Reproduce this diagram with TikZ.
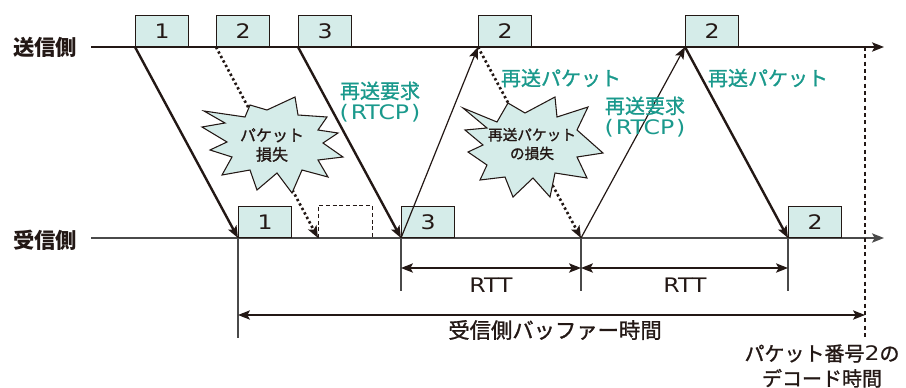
\documentclass[tikz,border=0pt]{standalone}
\usepackage{fontspec}
\setmainfont{Noto Sans CJK JP}
\newfontfamily\cjkmed{Noto Sans CJK JP}[FakeBold=1.2]
\newfontfamily\widelat{DejaVu Sans}[FakeStretch=1.18]
\usetikzlibrary{arrows.meta}
\definecolor{ink}{HTML}{231815}
\definecolor{axisgray}{HTML}{4A4A4A}
\definecolor{pale}{HTML}{D5ECE9}
\definecolor{tealtxt}{HTML}{1A998C}
\tikzset{
  pkt/.style={draw=ink, line width=0.8pt, fill=pale, minimum width=39.75pt, minimum height=23.25pt,
    inner sep=0pt, anchor=south west, font=\widelat\fontsize{15}{15}\selectfont, text=ink},
  ghost/.style={draw=ink, line width=0.7pt, dash pattern=on 3pt off 2pt},
  tip/.style={-{Stealth[length=9pt,width=7pt,inset=2pt]}},
  tipb/.style={{Stealth[length=9pt,width=7pt,inset=2pt]}-{Stealth[length=9pt,width=7pt,inset=2pt]}},
  thickarr/.style={draw=ink, line width=1.8pt, tip},
  thinarr/.style={draw=ink, line width=0.9pt, tip},
  dotarr/.style={draw=ink, line width=2pt, dash pattern=on 1.8pt off 2pt, tip},
  axisline/.style={draw=ink, line width=1.2pt, tip},
  raxis/.style={draw=axisgray, line width=1pt, tip},
  tick/.style={draw=axisgray, line width=0.8pt},
  dim/.style={draw=ink, line width=0.9pt, tipb},
  side/.style={font=\fontsize{16}{18}\selectfont\bfseries, text=ink},
  teal/.style={font=\cjkmed\fontsize{15}{16}\selectfont, text=tealtxt, align=center, inner sep=0pt},
  burst/.style={draw=ink, line width=0.8pt, fill=pale},
  bursttxt/.style={font=\cjkmed\fontsize{12}{14.5}\selectfont, text=ink, align=center, inner sep=0pt},
  lbl/.style={font=\cjkmed\fontsize{15}{17}\selectfont, text=ink, align=center, inner sep=0pt},
}
\newcommand{\rtcplabel}{{\widelat (\kern1.5pt RTCP\kern1.5pt)}}
\begin{document}
\begin{tikzpicture}[x=0.75pt, y=-0.75pt]
\useasboundingbox (0,0) rectangle (906,387);

% side labels
\node[side] (snd) at (45,47) {送信側};
\node[side] (rcv) at (45,240) {受信側};

% timelines
\coordinate (sL) at (91,47);
\coordinate (sR) at (884,47);
\coordinate (rL) at (91,238);
\coordinate (rR) at (884,238);
\draw[axisline] (sL) -- (sR);
\draw[raxis] (rL) -- (rR);

% decode time dashed line
\coordinate (dTop) at (865,47);
\coordinate (dBot) at (865,338);
\draw[draw=ink, line width=0.8pt, dash pattern=on 3pt off 2.5pt] (dTop) -- (dBot);

% sender packets
\node[pkt] (s1) at (135,47) {1};
\node[pkt] (s2) at (216,47) {2};
\node[pkt] (s3) at (298,47) {3};
\node[pkt] (s4) at (478,47) {2};
\node[pkt] (s5) at (685,47) {2};

% receiver packets
\node[pkt] (r1) at (238,238) {1};
\node[pkt, draw=none, fill=none] (r2) at (318,238) {};
\draw[ghost] (r2.south west) -- (r2.north west) -- (r2.north east) -- (r2.south east);
\node[pkt] (r3) at (401,238) {3};
\node[pkt] (r5) at (788,238) {2};
\coordinate (rx) at (581,238);

% dotted lost packets (behind bursts)
\draw[dotarr] (s2.south west) -- (r2.south west);
\draw[dotarr] (s4.south west) -- (rx);

% starbursts
\draw[burst] (204,111) -- (245,117) -- (250,105) -- (267,110) -- (295,97) -- (298,115) -- (327,117)
  -- (318,130) -- (338,133) -- (323,143) -- (343,157) -- (318,160) -- (328,177) -- (302,170)
  -- (292,193) -- (277,173) -- (257,190) -- (250,170) -- (222,175) -- (232,157) -- (210,150)
  -- (227,142) -- (202,127) -- (225,123) -- cycle;
\node[bursttxt] (b1t) at (272,145) {パケット\\損失};

\draw[burst] (463,108) -- (497,122) -- (508,103) -- (525,113) -- (555,97) -- (557,117) -- (588,107)
  -- (577,130) -- (603,153) -- (577,157) -- (587,178) -- (555,173) -- (550,197) -- (533,178)
  -- (513,197) -- (505,177) -- (480,180) -- (487,165) -- (468,152) -- (483,145) -- (465,130)
  -- (487,128) -- cycle;
\node[bursttxt, font=\cjkmed\fontsize{11}{14}\selectfont] (b2t) at (532,144) {再送パケット\\の損失};

% transmissions
\draw[thickarr] (s1.south west) -- (r1.south west);
\draw[thickarr] (s3.south west) -- (r3.south west);
\draw[thinarr] (r3.south west) -- (s4.south west);
\draw[thinarr] (rx) -- (s5.south west);
\draw[thickarr] (s5.south west) -- (r5.south west);

% teal labels
\node[teal] (req1) at (380,102) {再送要求\\\rtcplabel};
\node[teal] (ret1) at (561,78) {再送パケット};
\node[teal] (req2) at (645,117) {再送要求\\\rtcplabel};
\node[teal] (ret2) at (768,78) {再送パケット};

% RTT dimension lines
\coordinate (v1t) at (401,238); \coordinate (v1b) at (401,291);
\coordinate (v2t) at (581,238); \coordinate (v2b) at (581,291);
\coordinate (v3t) at (788,238); \coordinate (v3b) at (788,291);
\draw[tick] (v1t) -- (v1b);
\draw[tick] (v2t) -- (v2b);
\draw[tick] (v3t) -- (v3b);
\coordinate (a1) at (401,268); \coordinate (a2) at (581,268); \coordinate (a3) at (788,268);
\draw[dim] (a1) -- (a2);
\draw[dim] (a2) -- (a3);
\node[lbl, font=\widelat\fontsize{15}{16}\selectfont] (rtt1) at (491,285) {RTT};
\node[lbl, font=\widelat\fontsize{15}{16}\selectfont] (rtt2) at (685,285) {RTT};

% buffer time
\coordinate (bv1) at (238,238); \coordinate (bv2) at (238,338);
\draw[tick] (bv1) -- (bv2);
\coordinate (bufL) at (238,315); \coordinate (bufR) at (865,315);
\draw[dim] (bufL) -- (bufR);
\node[lbl, font=\cjkmed\fontsize{16}{17}\selectfont] (buf) at (555,330) {受信側バッファー時間};

% decode label
\node[lbl, font=\cjkmed\fontsize{15}{18.75}\selectfont] (dec) at (822,366) {パケット番号{\widelat 2}の\\デコード時間};
\end{tikzpicture}
\end{document}
